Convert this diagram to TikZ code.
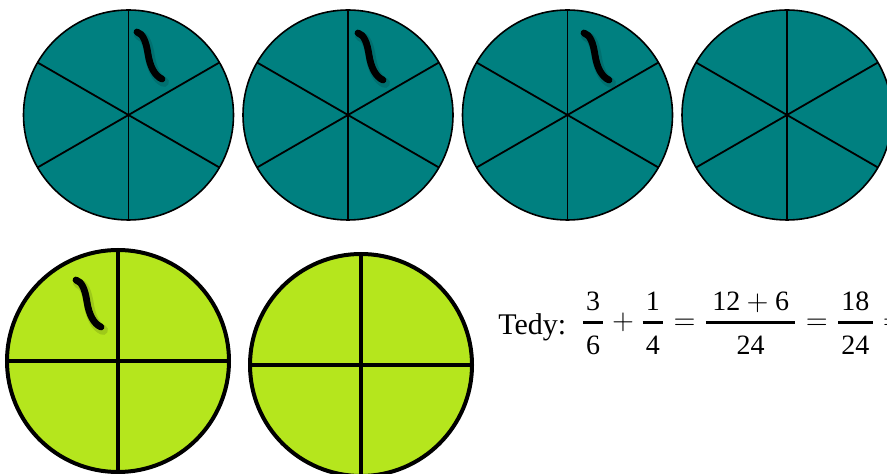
\documentclass[tikz,border=0pt]{standalone}
\usepackage{amsmath}
\usepackage{fontspec}
\setmainfont{Liberation Serif}
\usetikzlibrary{positioning}
\definecolor{pieteal}{RGB}{0,128,128}
\definecolor{piegreen}{RGB}{181,230,29}
\tikzstyle{sixths} = [
    circle,
    minimum size=105pt,
    inner sep=0pt,
    outer sep=0pt,
    fill=pieteal,
    draw=black,
    line width=0.8pt
]
\tikzstyle{quarters} = [
    circle,
    minimum size=111pt,
    inner sep=0pt,
    outer sep=0pt,
    fill=piegreen,
    draw=black,
    line width=2pt
]
\tikzstyle{spoke} = [black, line width=0.9pt]
\tikzstyle{cross} = [black, line width=2pt]
\tikzstyle{squiggle} = [black, line width=3.4pt, line cap=round]
\tikzstyle{squiggleshadow} = [black, opacity=0.12, line width=5pt, line cap=round]
\newcommand{\wormpath}{(0,0) .. controls (6,2) and (9,9) .. (11,22) .. controls (13,35) and (18,44) .. (25,47)}
\newcommand{\denstrut}{\rule{0pt}{11.5pt}}
\newcommand{\thickfrac}[2]{\genfrac{}{}{1.3pt}{0}{\mkern2mu\mathrm{#1}\mkern2mu}{\denstrut\mathrm{#2}}}

\begin{document}
\begin{tikzpicture}[x=0.5pt, y=-0.5pt, node distance=4.75pt]
\useasboundingbox (0,0) rectangle (887,474);

% sixths
\node (t1) [sixths] at (128.5,115) {};
\node (t2) [sixths, right=of t1] {};
\node (t3) [sixths, right=of t2] {};
\node (t4) [sixths, right=of t3] {};

\draw [spoke] (t1.90) -- (t1.270);
\draw [spoke] (t1.30) -- (t1.210);
\draw [spoke] (t1.150) -- (t1.330);
\draw [spoke] (t2.90) -- (t2.270);
\draw [spoke] (t2.30) -- (t2.210);
\draw [spoke] (t2.150) -- (t2.330);
\draw [spoke] (t3.90) -- (t3.270);
\draw [spoke] (t3.30) -- (t3.210);
\draw [spoke] (t3.150) -- (t3.330);
\draw [spoke] (t4.90) -- (t4.270);
\draw [spoke] (t4.30) -- (t4.210);
\draw [spoke] (t4.150) -- (t4.330);

% quarters
\node (q1) [quarters] at (118,361) {};
\node (q2) [quarters, right=10.5pt of q1, yshift=-2pt] {};

\draw [cross] (q1.90) -- (q1.270);
\draw [cross] (q1.180) -- (q1.0);
\draw [cross] (q2.90) -- (q2.270);
\draw [cross] (q2.180) -- (q2.0);

% worms
\draw [squiggleshadow, shift={(139,35)}] \wormpath;
\draw [squiggle, shift={(137,32)}] \wormpath;
\draw [squiggleshadow, shift={(360,36)}] \wormpath;
\draw [squiggle, shift={(358,33)}] \wormpath;
\draw [squiggleshadow, shift={(586,36)}] \wormpath;
\draw [squiggle, shift={(584,33)}] \wormpath;
\draw [squiggleshadow, shift={(78,283)}] \wormpath;
\draw [squiggle, shift={(76,280)}] \wormpath;

% sum
\node (name) [anchor=base west, inner sep=0pt, font=\fontsize{15}{18}\selectfont] at (498,335) {Tedy:};
\node (sum) [anchor=base west, inner sep=0pt, font=\fontsize{14}{17}\selectfont] at (580,330)
{$\thickfrac{3}{6}+\thickfrac{1}{4}=\genfrac{}{}{1.3pt}{0}{\mkern4mu\mathrm{12}+\mathrm{6}\mkern4mu}{\denstrut\mathrm{24}}=\thickfrac{18}{24}=$};

\end{tikzpicture}
\end{document}
